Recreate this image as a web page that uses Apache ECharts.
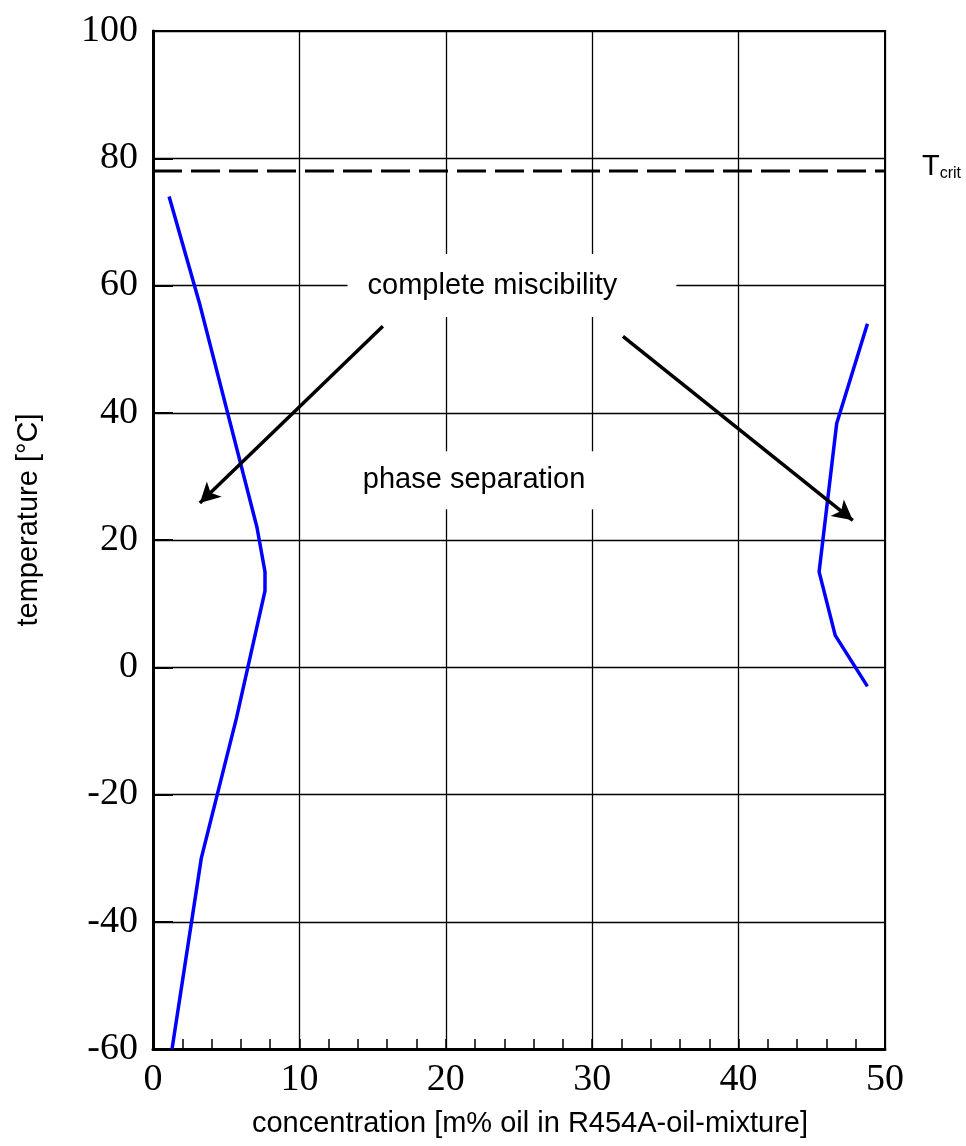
<!DOCTYPE html>
<html>
<head>
<meta charset="utf-8">
<title>R454A miscibility</title>
<script src="https://cdn.jsdelivr.net/npm/echarts@6/dist/echarts.min.js"></script>
<style>
  html, body { margin: 0; padding: 0; background: #fff; }
  #chart { width: 966px; height: 1146px; }
</style>
</head>
<body>
<div id="chart"></div>
<script>
// left branch of the miscibility gap (oil-poor side)
var leftConc = [1.1, 3.2, 7.1, 7.65, 7.65, 5.7, 3.3, 1.3];
var leftTemp = [74, 57, 22, 15, 12, -8, -30, -60];

// right branch (oil-rich side)
var rightConc = [48.8, 46.7, 45.5, 46.6, 48.8];
var rightTemp = [54, 38.3, 15, 5, -3];

// critical temperature of R454A
var tCrit = 78;

// arrows: [from, to] in [concentration, temperature]
var arrowLeft = [[15.7, 53.6], [3.2, 25.8]];
var arrowRight = [[32.1, 52.0], [47.8, 23.1]];

var xTicks = [0, 10, 20, 30, 40, 50];
var yTicks = [-60, -40, -20, 0, 20, 40, 60, 80, 100];

var serif = '"Liberation Serif", "Times New Roman", serif';
var sans = '"Liberation Sans", Arial, sans-serif';

function pairs(xs, ys) {
    return xs.map(function (x, i) { return [x, ys[i]]; });
}

var chart = echarts.init(document.getElementById('chart'));

var option = {
    animation: false,
    backgroundColor: '#fff',
    grid: {
        left: 153, right: 81, top: 31, bottom: 97,
        show: true, borderColor: '#000', borderWidth: 2
    },
    xAxis: {
        type: 'value',
        min: xTicks[0], max: xTicks[xTicks.length - 1], interval: 10,
        name: 'concentration [m% oil in R454A-oil-mixture]',
        nameLocation: 'middle',
        nameGap: 60,
        nameTextStyle: { fontFamily: sans, fontSize: 29, color: '#000', padding: [0, 0, 0, 22] },
        axisLine: { onZero: false, lineStyle: { color: '#000', width: 3 } },
        axisTick: { show: true, inside: true, length: 10, lineStyle: { color: '#000', width: 1.5 } },
        minorTick: { show: true, splitNumber: 5, length: 10, lineStyle: { color: '#000', width: 1.5 } },
        axisLabel: { fontFamily: serif, fontSize: 38, color: '#000', margin: 12 },
        splitLine: { show: true, lineStyle: { color: '#000', width: 1.3 } }
    },
    yAxis: {
        type: 'value',
        min: yTicks[0], max: yTicks[yTicks.length - 1], interval: 20,
        name: 'temperature [°C]',
        nameLocation: 'middle',
        nameRotate: 90,
        nameGap: 110,
        nameTextStyle: { fontFamily: sans, fontSize: 29, color: '#000', padding: [0, 0, 0, 40] },
        axisLine: { onZero: false, lineStyle: { color: '#000', width: 3 } },
        axisTick: { show: true, inside: true, length: 20, lineStyle: { color: '#000', width: 2 } },
        axisLabel: { fontFamily: serif, fontSize: 38, color: '#000', margin: 15 },
        splitLine: { show: true, lineStyle: { color: '#000', width: 1.3 } }
    },
    series: [
        {
            // text boxes that blank out the grid behind them
            type: 'scatter',
            symbolSize: 0,
            z: 3,
            itemStyle: { opacity: 1 },
            data: [
                { value: [24.52, 60], name: 'complete miscibility',
                  label: { padding: [17, 59, 17, 20] } },
                { value: [21.93, 29.4], name: 'phase separation',
                  label: { padding: [14, 20, 15, 20] } }
            ],
            label: {
                show: true,
                position: 'inside',
                formatter: '{b}',
                fontFamily: sans,
                fontSize: 29,
                color: '#000',
                opacity: 1,
                backgroundColor: '#fff'
            },
            silent: true
        },
        {
            type: 'line',
            data: pairs(leftConc, leftTemp),
            showSymbol: false,
            lineStyle: { color: '#0000ff', width: 3.5 },
            z: 4
        },
        {
            type: 'line',
            data: pairs(rightConc, rightTemp),
            showSymbol: false,
            lineStyle: { color: '#0000ff', width: 3.5 },
            z: 4
        },
        {
            type: 'line',
            data: [[xTicks[0], tCrit], [xTicks[xTicks.length - 1], tCrit]],
            showSymbol: false,
            lineStyle: { color: '#000', width: 3, type: [29, 9], cap: 'butt' },
            z: 4,
            endLabel: {
                show: true,
                distance: 37,
                offset: [0, -4],
                formatter: '{t|T}{s|crit}',
                rich: {
                    t: { fontFamily: sans, fontSize: 29, color: '#000', verticalAlign: 'bottom' },
                    s: { fontFamily: sans, fontSize: 16, color: '#000', verticalAlign: 'bottom' }
                }
            },
            markLine: {
                silent: true,
                symbol: ['none', 'arrow'],
                symbolSize: [16, 20],
                label: { show: false },
                lineStyle: { color: '#000', width: 3.5, type: 'solid' },
                data: [
                    [{ coord: arrowLeft[0] }, { coord: arrowLeft[1] }],
                    [{ coord: arrowRight[0] }, { coord: arrowRight[1] }]
                ]
            }
        }
    ]
};

chart.setOption(option);
</script>
</body>
</html>
